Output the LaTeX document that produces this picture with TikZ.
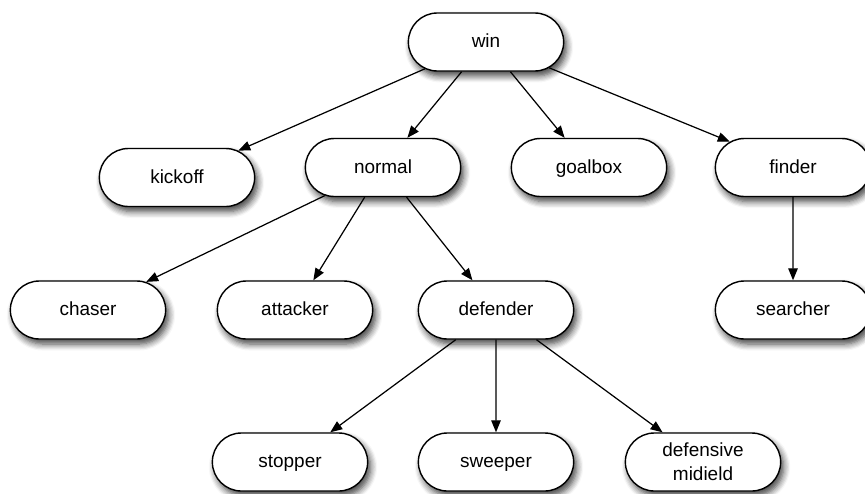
\documentclass[tikz,border=0pt]{standalone}
\usepackage{fontspec}
\setmainfont{Liberation Sans}
\usepackage{tikz}
\usetikzlibrary{shapes.misc, arrows.meta, shadows.blur}
\tikzset{
  tr/box/.style={rounded rectangle, draw=black, fill=white,
    minimum width=33.4mm, minimum height=11.6mm, line width=0.8pt,
    font=\fontsize{10.8}{13.6}\selectfont, align=center,
    text height=1.6ex, text depth=0.4ex,
    blur shadow={shadow xshift=0.6mm, shadow yshift=-1mm,
      shadow blur steps=6, shadow blur radius=1.3mm, shadow opacity=75}},
  tr/arr/.style={-{Triangle[length=6.8pt,width=5.4pt]}, line width=0.7pt,
    draw=black}
}
\begin{document}
\begin{tikzpicture}[x=1cm, y=1cm]
  \useasboundingbox (0,0) rectangle (17.3,9.86);
  % Raiz
  \node[tr/box] at (9.72, 9.02)  (win)    {win};

  % Segundo nivel
  \node[tr/box] at (3.54, 6.31)  (kick)   {kickoff};
  \node[tr/box] at (7.66, 6.51)  (norm)   {normal};
  \node[tr/box] at (11.78, 6.51) (goal)   {goalbox};
  \node[tr/box] at (15.86, 6.51) (find)   {finder};

  % Tercer nivel
  \node[tr/box] at (1.76, 3.66)  (chase)  {chaser};
  \node[tr/box] at (5.90, 3.66)  (att)    {attacker};
  \node[tr/box] at (9.92, 3.66)  (def)    {defender};
  \node[tr/box] at (15.86, 3.66) (search) {searcher};

  % Cuarto nivel (defensa)
  \node[tr/box] at (5.80, 0.62)  (stop)   {stopper};
  \node[tr/box] at (9.92, 0.62)  (sweep)  {sweeper};
  \node[tr/box, text height=, text depth=] at (14.06, 0.62) (dmid)
        {defensive\\midield};

  % --- Aristas ---
  \draw[tr/arr] (win)  -- (kick);
  \draw[tr/arr] (win)  -- (norm);
  \draw[tr/arr] (win)  -- (goal);
  \draw[tr/arr] (win)  -- (find);
  \draw[tr/arr] (norm) -- (chase);
  \draw[tr/arr] (norm) -- (att);
  \draw[tr/arr] (norm) -- (def);
  \draw[tr/arr] (find) -- (search);
  \draw[tr/arr] (def)  -- (stop);
  \draw[tr/arr] (def)  -- (sweep);
  \draw[tr/arr] (def)  -- (dmid);
\end{tikzpicture}
\end{document}
